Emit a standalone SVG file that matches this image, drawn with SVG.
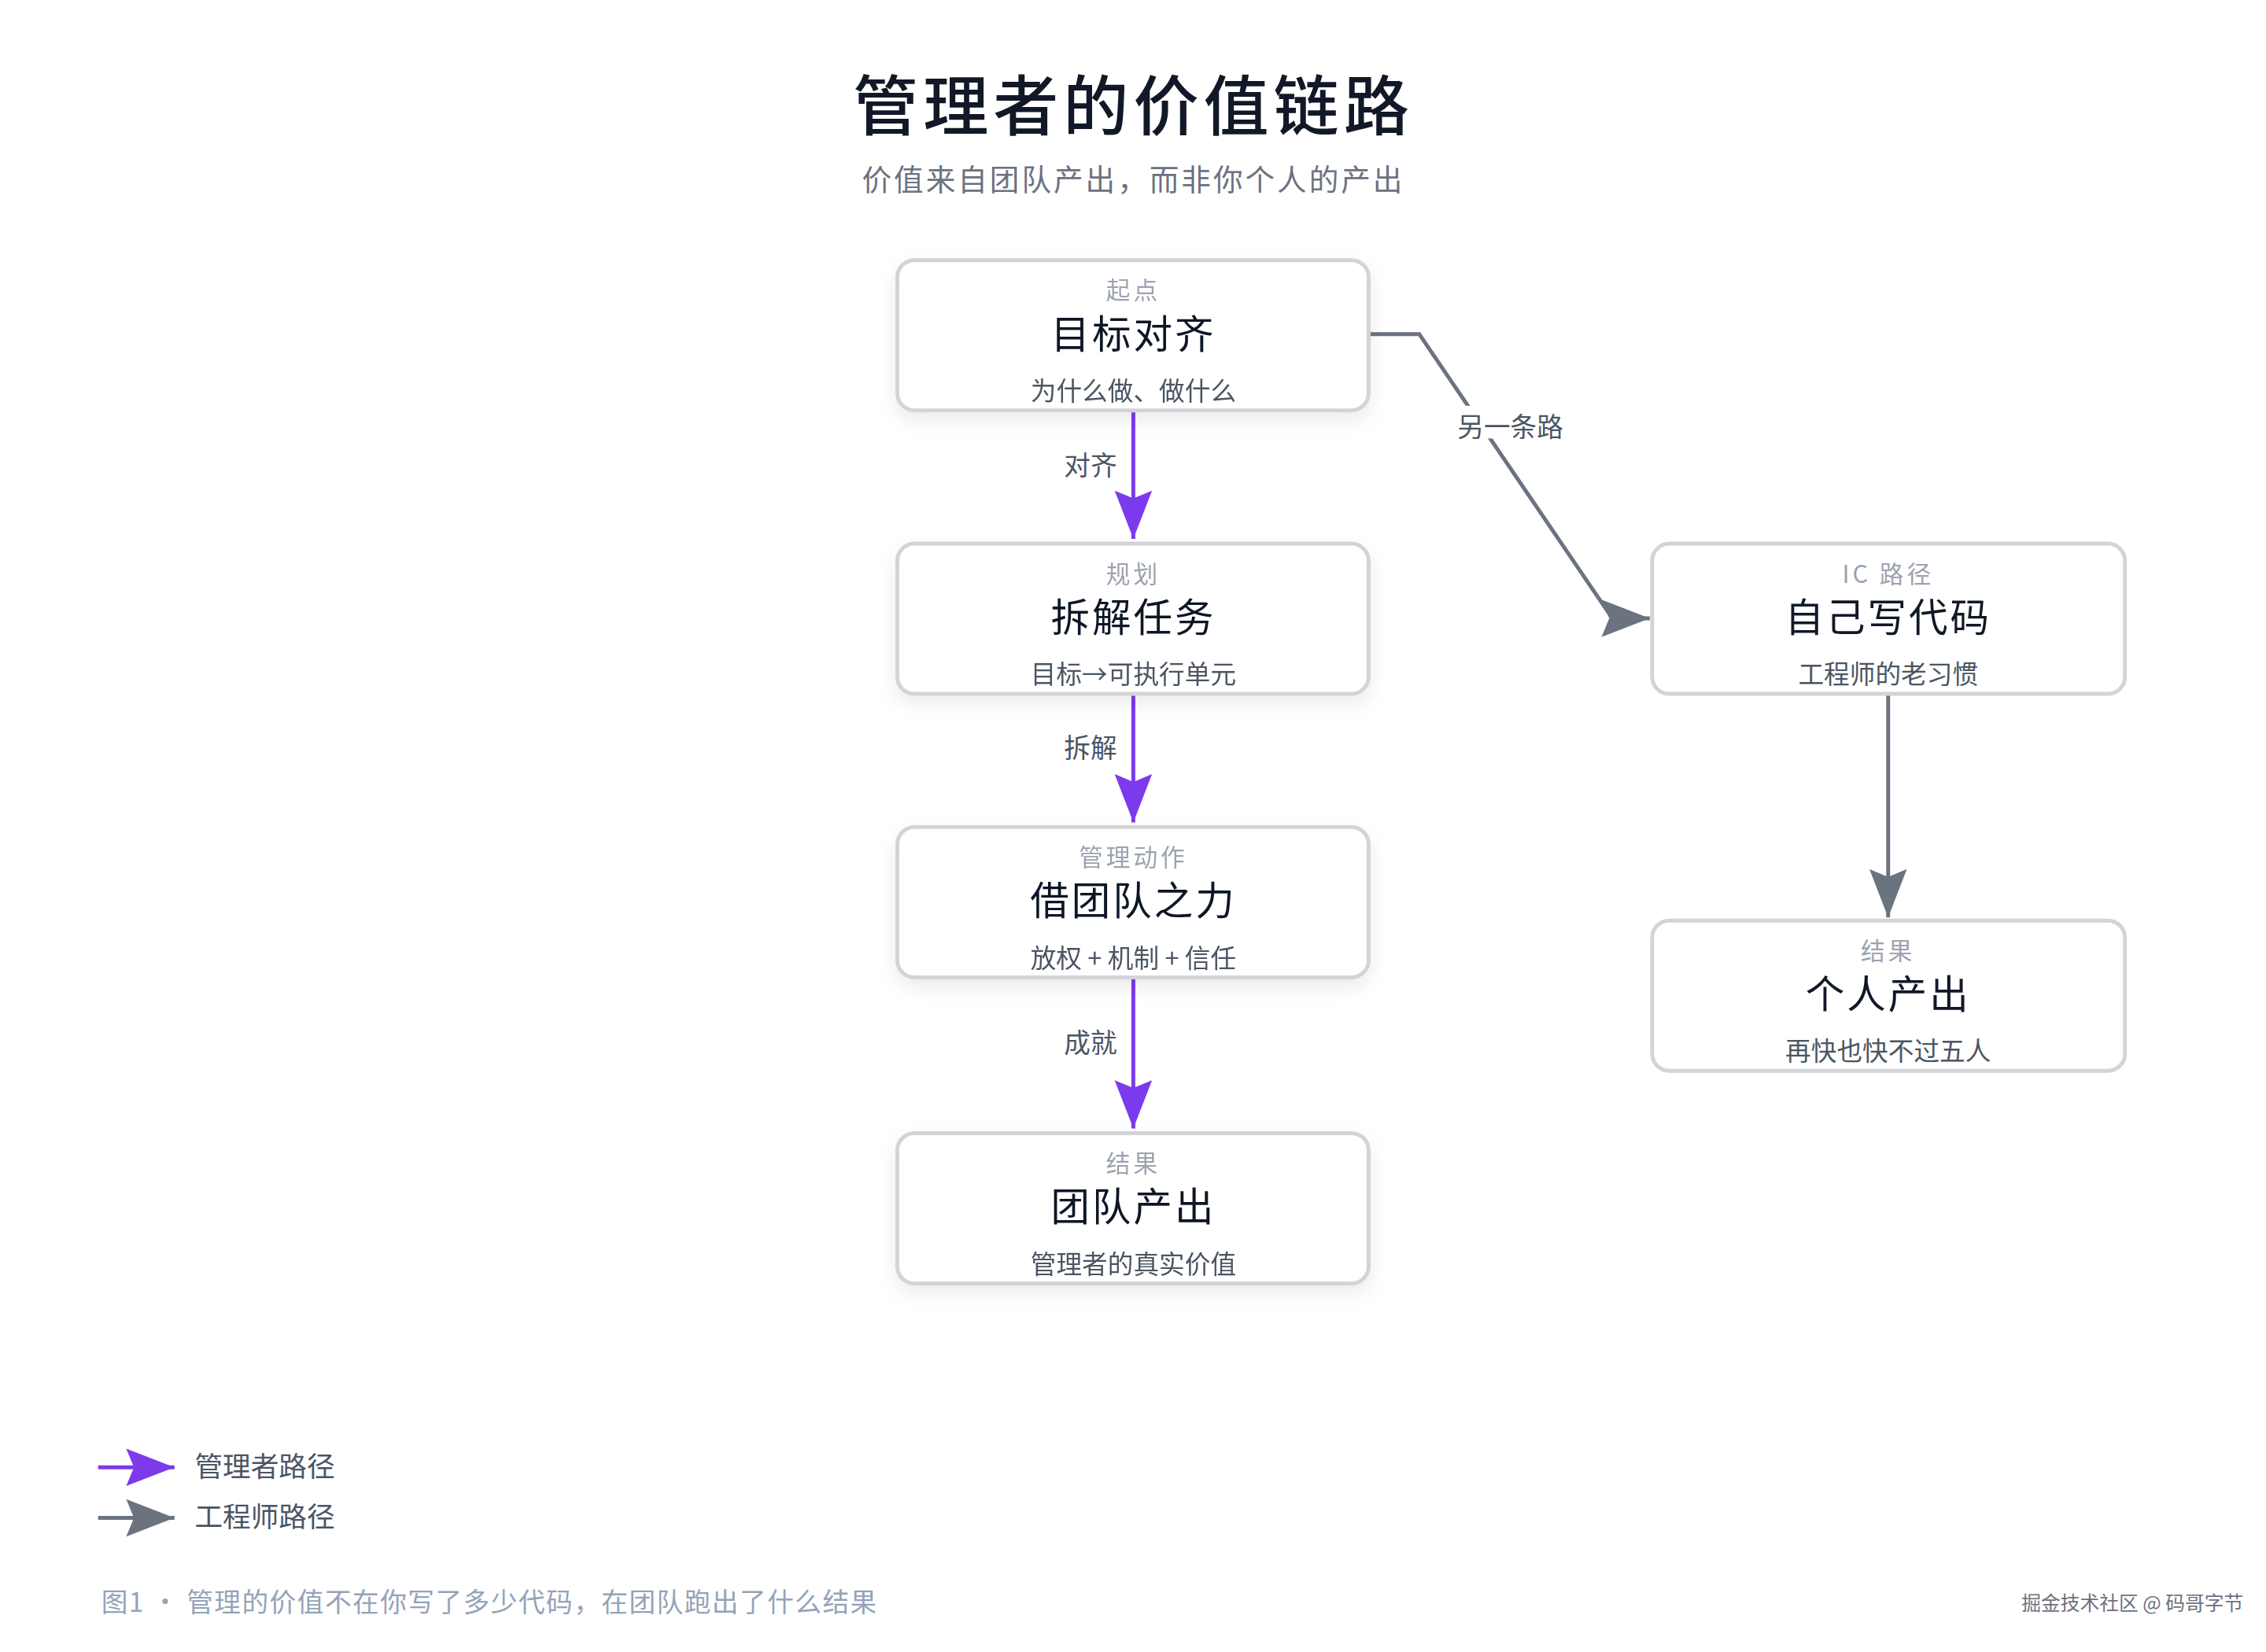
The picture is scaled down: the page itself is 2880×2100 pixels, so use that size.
<svg xmlns="http://www.w3.org/2000/svg" width="2880" height="2100" viewBox="0 0 2880 2100">
<style>
text{font-family:"Noto Sans CJK SC","Liberation Sans",sans-serif}
.box{fill:#fff;stroke:#d4d4d8;stroke-width:5}
.tag{font-size:31px;fill:#9ca3af;text-anchor:middle;letter-spacing:4px}
.main{font-size:50px;fill:#111827;text-anchor:middle;letter-spacing:3px}
.sub{font-size:33px;fill:#4b5563;text-anchor:middle}
.lbl{font-size:34px;fill:#4b5563;text-anchor:middle}
.p{stroke:#7c3aed;stroke-width:5;fill:none}
.g{stroke:#6b7280;stroke-width:5;fill:none}
</style>
<defs>
<filter id="sh" x="-20%" y="-20%" width="140%" height="160%"><feDropShadow dx="0" dy="10" stdDeviation="12" flood-color="#000" flood-opacity="0.08"/></filter>
<marker id="ap" markerUnits="userSpaceOnUse" markerWidth="70" markerHeight="60" refX="62" refY="30" orient="auto"><path d="M0,6 L62,30 L0,54 L10,30 Z" fill="#7c3aed"/></marker>
<marker id="ag" markerUnits="userSpaceOnUse" markerWidth="70" markerHeight="60" refX="62" refY="30" orient="auto"><path d="M0,6 L62,30 L0,54 L10,30 Z" fill="#6b7280"/></marker>
</defs>
<rect width="2880" height="2100" fill="#fff"/>
<g transform="scale(0.99)">
<text x="1455" y="167" font-size="84" font-weight="500" fill="#111827" text-anchor="middle" letter-spacing="6">管理者的价值链路</text>
<text x="1455" y="244" font-size="38" fill="#6b7280" text-anchor="middle" letter-spacing="3">价值来自团队产出，而非你个人的产出</text>
<g id="connectors">
<path class="p" d="M1455,527 V692" marker-end="url(#ap)"/>
<path class="p" d="M1455,891 V1056" marker-end="url(#ap)"/>
<path class="p" d="M1455,1255 V1449" marker-end="url(#ap)"/>
<path class="g" d="M1759,429 H1822 L2070,794 H2118" marker-end="url(#ag)"/>
<path class="g" d="M2424,891 V1178" marker-end="url(#ag)"/>
<rect x="1365" y="570" width="70" height="42" fill="#fff"/><text class="lbl" x="1400" y="610">对齐</text>
<rect x="1365" y="933" width="70" height="42" fill="#fff"/><text class="lbl" x="1400" y="973">拆解</text>
<rect x="1365" y="1312" width="70" height="42" fill="#fff"/><text class="lbl" x="1400" y="1352">成就</text>
<rect x="1866" y="521" width="146" height="42" fill="#fff"/><text class="lbl" x="1939" y="561">另一条路</text>
</g>
<g id="n1" filter="url(#sh)"><rect class="box" x="1152" y="334" width="605" height="193" rx="22"/><text class="tag" x="1455" y="384">起点</text><text class="main" x="1455" y="447">目标对齐</text><text class="sub" x="1455" y="514">为什么做、做什么</text></g>
<g id="n2" filter="url(#sh)"><rect class="box" x="1152" y="698" width="605" height="193" rx="22"/><text class="tag" x="1455" y="748">规划</text><text class="main" x="1455" y="811">拆解任务</text><text class="sub" x="1455" y="878">目标→可执行单元</text></g>
<g id="n3" filter="url(#sh)"><rect class="box" x="1152" y="1062" width="605" height="193" rx="22"/><text class="tag" x="1455" y="1112">管理动作</text><text class="main" x="1455" y="1175">借团队之力</text><text class="sub" x="1455" y="1242">放权 + 机制 + 信任</text></g>
<g id="n4" filter="url(#sh)"><rect class="box" x="1152" y="1455" width="605" height="193" rx="22"/><text class="tag" x="1455" y="1505">结果</text><text class="main" x="1455" y="1568">团队产出</text><text class="sub" x="1455" y="1635">管理者的真实价值</text></g>
<g id="n5"><rect class="box" x="2121" y="698" width="607" height="193" rx="22"/><text class="tag" x="2424" y="748">IC 路径</text><text class="main" x="2424" y="811">自己写代码</text><text class="sub" x="2424" y="878">工程师的老习惯</text></g>
<g id="n6"><rect class="box" x="2121" y="1182" width="607" height="193" rx="22"/><text class="tag" x="2424" y="1232">结果</text><text class="main" x="2424" y="1295">个人产出</text><text class="sub" x="2424" y="1362">再快也快不过五人</text></g>
<g id="legend">
<path class="p" d="M126,1884 H224" marker-end="url(#ap)"/>
<text x="250" y="1896" font-size="36" fill="#4b5563">管理者路径</text>
<path class="g" d="M126,1949 H224" marker-end="url(#ag)"/>
<text x="250" y="1961" font-size="36" fill="#4b5563">工程师路径</text>
</g>
<text x="130" y="2070" font-size="34" fill="#94a3b8" letter-spacing="1.5">图1 · 管理的价值不在你写了多少代码，在团队跑出了什么结果</text>
<text x="2880" y="2068" font-size="25" fill="#6b7280" text-anchor="end">掘金技术社区 @ 码哥字节</text>
</g>
</svg>
